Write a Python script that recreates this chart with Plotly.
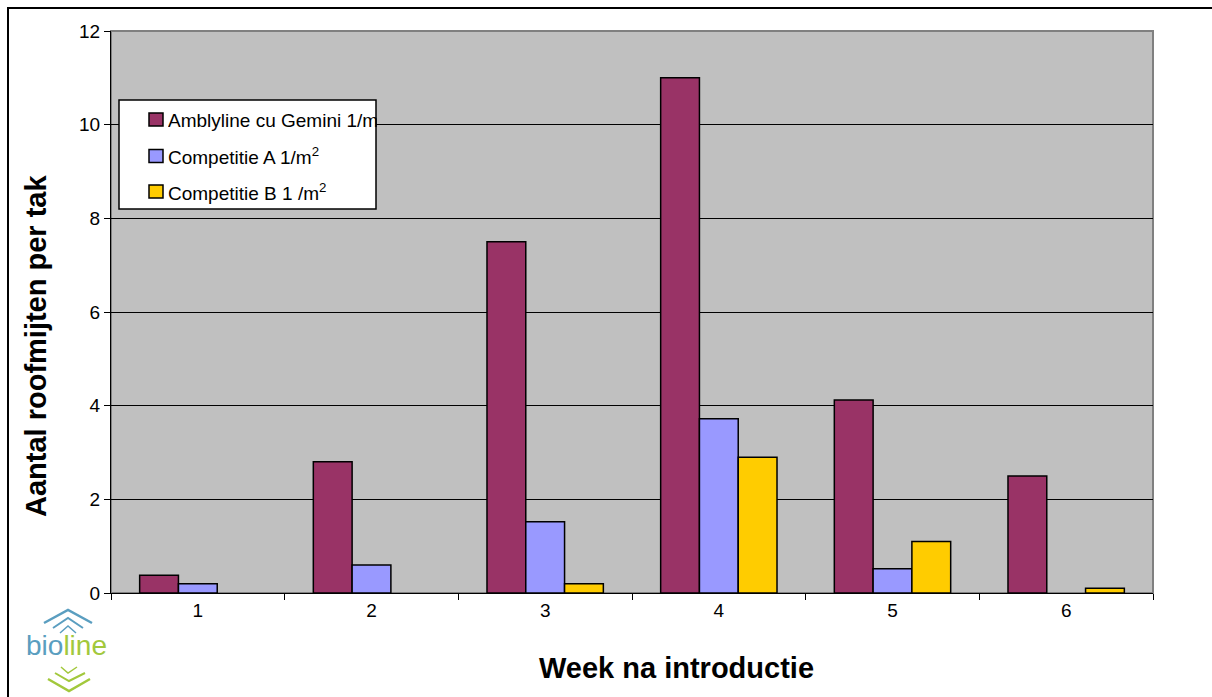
import plotly.graph_objects as go

weeks = ["1", "2", "3", "4", "5", "6"]
amblyline = [0.38, 2.8, 7.5, 11.0, 4.12, 2.5]
competitie_a = [0.2, 0.6, 1.52, 3.72, 0.52, 0.0]
competitie_b = [0.0, 0.0, 0.2, 2.9, 1.1, 0.1]

series_names = ["Amblyline cu Gemini 1/m<sup>2</sup>",
                "Competitie A 1/m<sup>2</sup>",
                "Competitie B 1 /m<sup>2</sup>"]
series_colors = ["#993366", "#9999ff", "#ffcc00"]
y_ticks = [0, 2, 4, 6, 8, 10, 12]

FONT = "Liberation Sans, Arial, sans-serif"
W, H = 1212, 697
L, R, T, B = 111, 1153, 31, 593


def px(x):
    return (x - L) / (R - L)


def py(y):
    return (B - y) / (B - T)


fig = go.Figure()
for name, vals, col in zip(series_names, [amblyline, competitie_a, competitie_b], series_colors):
    fig.add_trace(go.Bar(
        x=weeks, y=vals, name=name,
        marker=dict(color=col,
                    line=dict(color="black", width=[1.5 if v > 0 else 0 for v in vals])),
        showlegend=False,
    ))

shapes = []
annotations = []

# outer frame
shapes.append(dict(type="rect", xref="paper", yref="paper",
                   x0=px(8), x1=px(1230), y0=py(8), y1=py(720),
                   line=dict(color="black", width=2), layer="below"))

# plot frame
shapes.append(dict(type="rect", xref="paper", yref="paper",
                   x0=0, x1=1, y0=0, y1=1,
                   line=dict(color="#808080", width=2), layer="below"))

# legend box (entries are clipped at its right edge)
box_left, box_right = 119, 376
shapes.append(dict(type="rect", xref="paper", yref="paper",
                   x0=px(box_left), x1=px(box_right), y0=py(100), y1=py(209),
                   fillcolor="white", line=dict(color="black", width=1.5), layer="above"))
row_y = [119.5, 156, 191.5]
text_left = 166
for name, col, yy in zip(series_names, series_colors, row_y):
    shapes.append(dict(type="rect", xref="paper", yref="paper",
                       x0=px(149), x1=px(163), y0=py(yy - 6.5), y1=py(yy + 6.5),
                       fillcolor=col, line=dict(color="black", width=1.5), layer="above"))
    annotations.append(dict(text=name, xref="paper", yref="paper",
                            x=px(text_left), y=py(yy), xanchor="left", yanchor="middle",
                            width=box_right - text_left - 1, align="left",
                            showarrow=False, font=dict(family=FONT, size=19, color="black")))

# axis titles
annotations.append(dict(text="<b>Aantal roofmijten per tak</b>", xref="paper", yref="paper",
                        x=px(36), y=py(346), textangle=-90, showarrow=False,
                        xanchor="center", yanchor="middle",
                        font=dict(family=FONT, size=29, color="black")))
annotations.append(dict(text="<b>Week na introductie</b>", xref="paper", yref="paper",
                        x=px(676), y=py(668), showarrow=False,
                        xanchor="center", yanchor="middle",
                        font=dict(family=FONT, size=29, color="black")))

# bioline mark
annotations.append(dict(text="<span style='color:#5a9ec0'>bio</span><span style='color:#a2c83c'>line</span>",
                        xref="paper", yref="paper", x=px(66), y=py(645),
                        showarrow=False, xanchor="center", yanchor="middle",
                        font=dict(family=FONT, size=28)))


def chevron(x_left, x_mid, x_right, y_side, y_apex, color, width):
    path = "M {} {} L {} {} L {} {}".format(px(x_left), py(y_side), px(x_mid), py(y_apex),
                                            px(x_right), py(y_side))
    return dict(type="path", xref="paper", yref="paper", path=path,
                line=dict(color=color, width=width))


blue = "#5a9ec0"
green = "#a2c83c"
shapes.append(chevron(44, 68, 92, 623, 610, blue, 2.5))
shapes.append(chevron(53, 68, 83, 628, 618, blue, 2))
shapes.append(chevron(60, 68, 76, 633, 626, blue, 1.5))
shapes.append(chevron(61, 68, 77, 667, 673, green, 1.5))
shapes.append(chevron(55, 69, 85, 673, 681, green, 2))
shapes.append(chevron(48, 69, 90, 679, 691, green, 2.5))

fig.update_layout(
    width=W, height=H,
    margin=dict(l=L, r=W - R, t=T, b=H - B, pad=0),
    paper_bgcolor="white",
    plot_bgcolor="#c0c0c0",
    barmode="group",
    bargap=0.33,
    bargroupgap=0,
    font=dict(family=FONT, size=19, color="black"),
    shapes=shapes,
    annotations=annotations,
    xaxis=dict(
        type="category", showgrid=False, showline=True, linecolor="black", linewidth=1,
        ticks="outside", tickson="boundaries", ticklen=6, tickcolor="black",
        tickfont=dict(family=FONT, size=19), zeroline=False,
    ),
    yaxis=dict(
        range=[0, 12], tickvals=y_ticks, showgrid=True, gridcolor="black", gridwidth=1,
        showline=True, linecolor="black", linewidth=1,
        ticks="outside", ticklen=6, tickcolor="black",
        tickfont=dict(family=FONT, size=19), zeroline=False,
    ),
)

fig.write_html("out.html")
